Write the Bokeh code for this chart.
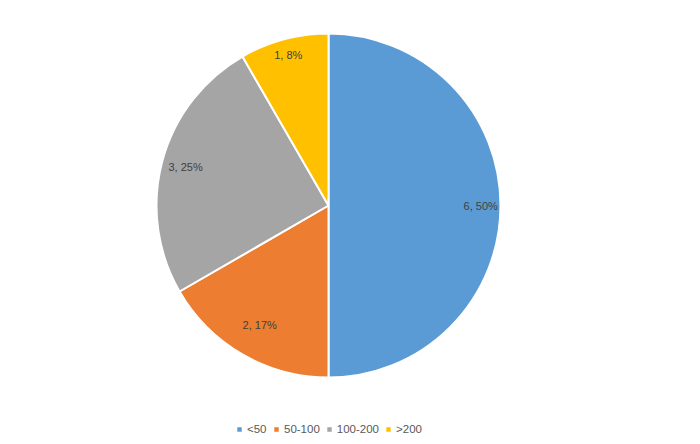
import math
from bokeh.plotting import figure
from bokeh.models import Range1d, Legend, LegendItem, ColumnDataSource
from bokeh.core.properties import value
from bokeh.embed import file_html
from bokeh.resources import INLINE

categories = ["<50", "50-100", "100-200", ">200"]
counts = [6, 2, 3, 1]
colors = ["#5B9BD5", "#ED7D31", "#A5A5A5", "#FFC000"]

# style: how far out (fraction of radius) each data label sits
label_radius_frac = [0.885, 0.80, 0.86, 0.905]

total = sum(counts)
R = 172

starts, ends, lx, ly, labels = [], [], [], [], []
cum = 0.0
for c, f in zip(counts, label_radius_frac):
    frac = c / total
    a0 = math.pi / 2 - cum * 2 * math.pi
    a1 = math.pi / 2 - (cum + frac) * 2 * math.pi
    starts.append(a0)
    ends.append(a1)
    mid = (a0 + a1) / 2
    lx.append(f * R * math.cos(mid))
    ly.append(f * R * math.sin(mid))
    labels.append(f"{c}, {round(frac * 100)}%")
    cum += frac

src = ColumnDataSource(dict(cat=categories, lx=lx, ly=ly, label=labels))

p = figure(width=684, height=440, output_backend="svg", toolbar_location=None,
           x_range=Range1d(-328, 356), y_range=Range1d(-235, 205),
           min_border=0, outline_line_color=None)
p.axis.visible = False
p.grid.visible = False

items = []
for i, cat in enumerate(categories):
    r = p.wedge(x=0, y=0, radius=R, start_angle=starts[i], end_angle=ends[i],
                direction="clock", fill_color=colors[i], line_color="white", line_width=2)
    items.append(LegendItem(label=cat, renderers=[r]))

p.text(x="lx", y="ly", text="label", source=src, text_align="center", text_baseline="middle",
       text_font=value("Liberation Sans"), text_font_size="11px", text_color="#404040")

legend = Legend(items=items, orientation="horizontal", location=(235, 5),
                glyph_width=8, glyph_height=8, label_standoff=4, spacing=5,
                padding=0, margin=0, label_height=12,
                label_text_font="Liberation Sans", label_text_font_size="11.5px",
                label_text_color="#595959", border_line_alpha=0, background_fill_alpha=0)
p.add_layout(legend, "center")

open("out.html", "w").write(file_html(p, INLINE))
